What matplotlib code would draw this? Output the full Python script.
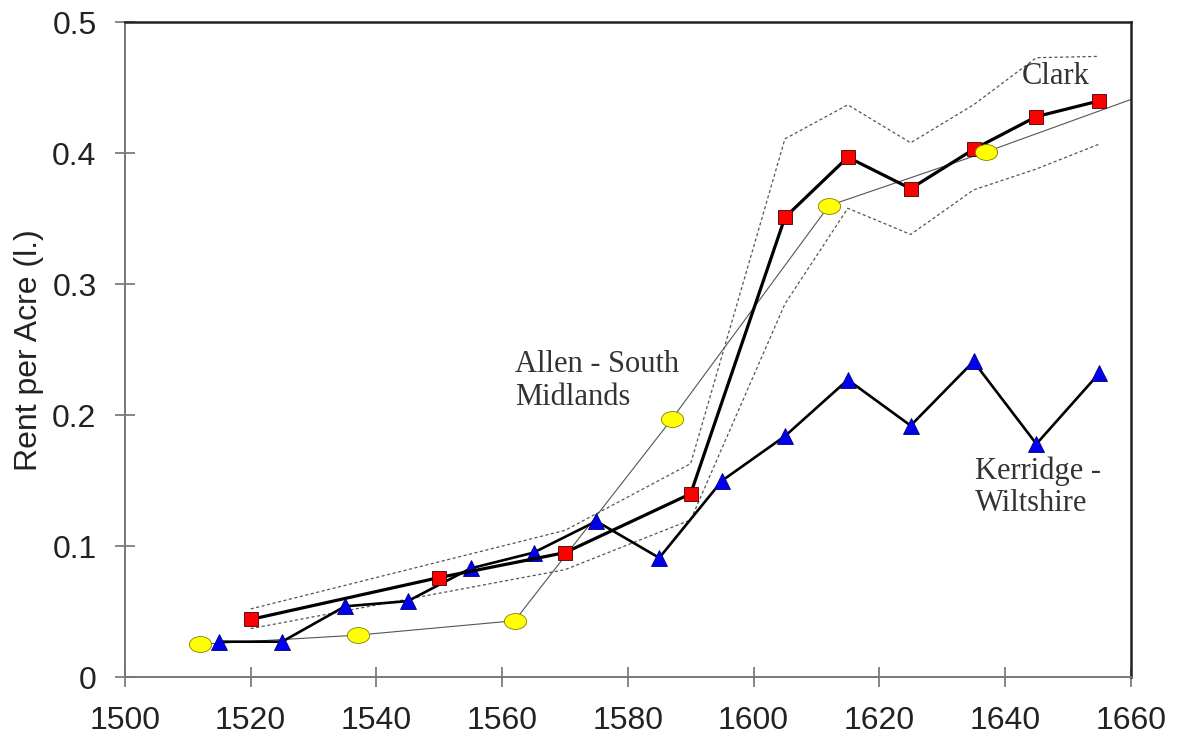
import numpy as np
import matplotlib
matplotlib.use("Agg")
import matplotlib.pyplot as plt
from matplotlib.path import Path

# Clark series with its upper / lower bands
clark_years = [1520, 1550, 1570, 1590, 1605, 1615, 1625, 1635, 1645, 1655]
clark_rent = [0.044, 0.076, 0.095, 0.140, 0.351, 0.397, 0.373, 0.403, 0.428, 0.440]
clark_upper = [0.052, 0.088, 0.112, 0.163, 0.411, 0.437, 0.408, 0.437, 0.473, 0.474]
clark_lower = [0.037, 0.064, 0.082, 0.120, 0.285, 0.358, 0.338, 0.372, 0.388, 0.407]

# Kerridge - Wiltshire
kerr_years = [1515, 1525, 1535, 1545, 1555, 1565, 1575, 1585, 1595, 1605, 1615, 1625, 1635, 1645, 1655]
kerr_rent = [0.027, 0.027, 0.054, 0.058, 0.083, 0.095, 0.119, 0.091, 0.150, 0.184, 0.227, 0.192, 0.241, 0.178, 0.232]

# Allen - South Midlands (line runs on to the right edge)
allen_years = [1512, 1537, 1562, 1587, 1612, 1637]
allen_rent = [0.025, 0.032, 0.043, 0.197, 0.360, 0.401]
allen_end_year = 1660
allen_end_rent = 0.441

x_ticks = [1500, 1520, 1540, 1560, 1580, 1600, 1620, 1640, 1660]
y_ticks = [0, 0.1, 0.2, 0.3, 0.4, 0.5]
y_tick_labels = ["0", "0.1", "0.2", "0.3", "0.4", "0.5"]

fig = plt.figure(figsize=(11.79, 7.44), dpi=100)
ax = fig.add_axes([0.106, 0.090, 0.853, 0.880])

# ellipse marker for the Allen points
circ = Path.unit_circle()
ellipse = Path(circ.vertices * np.array([1.4, 1.0]), circ.codes)

dash = (0, (2.5, 2))
ax.plot(clark_years, clark_upper, color="#555555", lw=0.9, ls=dash, zorder=2)
ax.plot(clark_years, clark_lower, color="#555555", lw=0.9, ls=dash, zorder=2)

ax.plot(allen_years + [allen_end_year], allen_rent + [allen_end_rent],
        color="#555555", lw=0.8, zorder=2)

ax.plot(kerr_years, kerr_rent, color="black", lw=1.9, zorder=3,
        marker="^", ms=11, mfc="#0000ee", mec="#000080", mew=0.6)
ax.plot(clark_years, clark_rent, color="black", lw=2.3, zorder=4,
        marker="s", ms=9.5, mfc="#ff0000", mec="#400000", mew=0.6)
ax.plot(allen_years, allen_rent, ls="none", zorder=5,
        marker=ellipse, ms=16, mfc="#ffff00", mec="#808000", mew=0.6)

label_font = dict(family="Liberation Serif", fontsize=22, color="#333333")
ax.text(1562, 0.226, "Allen - South\nMidlands", ha="left", va="center",
        linespacing=1.15, **label_font)
ax.text(1635.2, 0.145, "Kerridge -\nWiltshire", ha="left", va="center",
        linespacing=1.15, **label_font)
ax.text(1642.7, 0.459, "Clark", ha="left", va="center", **label_font)

ax.set_xlim(1500, 1660)
ax.set_ylim(0, 0.5)
ax.set_xticks(x_ticks)
ax.set_yticks(y_ticks)
ax.set_yticklabels(y_tick_labels)
ax.tick_params(direction="inout", length=15, width=1.1, color="#666666",
               labelsize=23, labelcolor="#222222", pad=13)
for lab in ax.get_xticklabels() + ax.get_yticklabels():
    lab.set_family("Liberation Sans")

ax.set_ylabel("Rent per Acre (l.)", fontsize=23, family="Liberation Sans",
              color="#222222", labelpad=6)

for side in ["left", "bottom"]:
    ax.spines[side].set_color("#777777")
    ax.spines[side].set_linewidth(1.4)
for side in ["top", "right"]:
    ax.spines[side].set_color("#222222")
    ax.spines[side].set_linewidth(1.8)

fig.savefig("out.png", dpi=100)
